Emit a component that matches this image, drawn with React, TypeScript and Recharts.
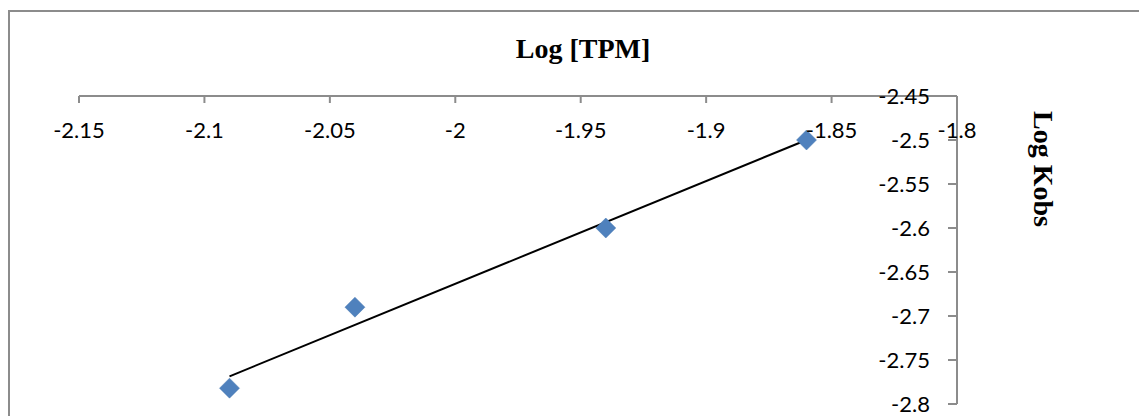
import React from 'react';
import { ScatterChart, Scatter, XAxis, YAxis, ReferenceLine } from 'recharts';

const logTPM = [-2.09, -2.04, -1.94, -1.86];
const logKobs = [-2.782, -2.69, -2.6, -2.5];
const xTicks = [-2.15, -2.1, -2.05, -2, -1.95, -1.9, -1.85, -1.8];
const yTicks = [-2.45, -2.5, -2.55, -2.6, -2.65, -2.7, -2.75, -2.8];
const xTitle = 'Log [TPM]';
const yTitle = 'Log Kobs';

const points = logTPM.map((x, i) => ({ x, y: logKobs[i] }));

// Linear (least squares) trendline, as in the spreadsheet
const n = points.length;
const mx = logTPM.reduce((a, b) => a + b, 0) / n;
const my = logKobs.reduce((a, b) => a + b, 0) / n;
const sxy = points.reduce((a, p) => a + (p.x - mx) * (p.y - my), 0);
const sxx = points.reduce((a, p) => a + (p.x - mx) * (p.x - mx), 0);
const slope = sxy / sxx;
const intercept = my - slope * mx;
const xMin = Math.min(...logTPM);
const xMax = Math.max(...logTPM);
const trend = [
  { x: xMin, y: slope * xMin + intercept },
  { x: xMax, y: slope * xMax + intercept },
];

const Diamond = (props: any) => {
  const { cx, cy } = props;
  const r = 10;
  return (
    <polygon
      points={`${cx},${cy - r} ${cx + r},${cy} ${cx},${cy + r} ${cx - r},${cy}`}
      fill="#4F81BD"
      stroke="#4A7AB3"
      strokeWidth={0.5}
    />
  );
};

const axisColor = '#8c8c8c';
const tickFont = { fontFamily: 'Lato', fontSize: 22, fill: '#000' };

export default function App() {
  return (
    <div style={{ position: 'relative', width: 1139, height: 408, background: '#fff' }}>
      <div
        style={{
          position: 'absolute',
          left: 0,
          top: 2,
          width: 1139,
          height: 406,
          borderLeft: `2px solid ${axisColor}`,
          borderTop: `2px solid ${axisColor}`,
          boxSizing: 'border-box',
        }}
      />
      <div style={{ position: 'absolute', left: 0, top: 0 }}>
        <ScatterChart width={1139} height={408} margin={{ top: 88, right: 190, bottom: 12, left: 71 }}>
          <XAxis
            type="number"
            dataKey="x"
            domain={[-2.15, -1.8]}
            ticks={xTicks}
            interval={0}
            orientation="top"
            mirror
            allowDataOverflow
            tickSize={7}
            tickMargin={19}
            stroke={axisColor}
            strokeWidth={2}
            tick={tickFont}
          />
          <YAxis
            type="number"
            dataKey="y"
            domain={[-2.8, -2.45]}
            ticks={yTicks}
            interval={0}
            orientation="right"
            mirror
            allowDataOverflow
            tickSize={9}
            tickMargin={18}
            stroke={axisColor}
            strokeWidth={2}
            tick={tickFont}
          />
          <ReferenceLine
            segment={trend}
            stroke="#000"
            strokeWidth={2}
            ifOverflow="visible"
          />
          <Scatter data={points} shape={Diamond} fill="#4F81BD" isAnimationActive={false} />
        </ScatterChart>
      </div>
      <svg
        width={1139}
        height={408}
        style={{ position: 'absolute', left: 0, top: 0, pointerEvents: 'none' }}
      >
        <text
          x={575}
          y={50}
          textAnchor="middle"
          fontFamily="Liberation Serif"
          fontWeight="bold"
          fontSize={28}
          fill="#000"
        >
          {xTitle}
        </text>
        <text
          transform="translate(1026,161) rotate(90)"
          textAnchor="middle"
          fontFamily="Liberation Serif"
          fontWeight="bold"
          fontSize={28}
          fill="#000"
        >
          {yTitle}
        </text>
      </svg>
    </div>
  );
}
